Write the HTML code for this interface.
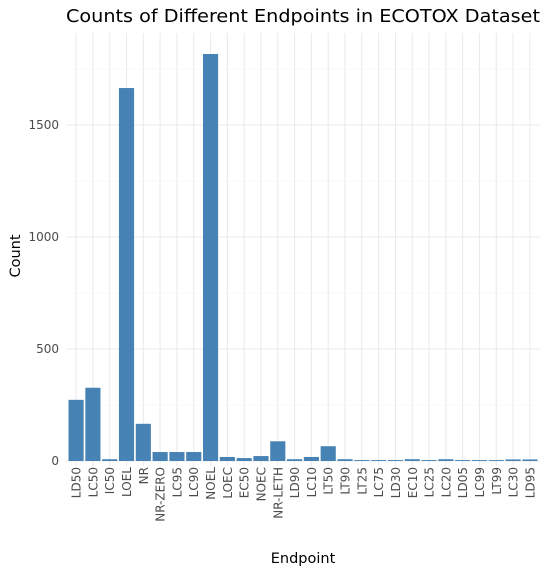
<!DOCTYPE html>
<html><head><meta charset="utf-8"><style>body{margin:0;background:#fff}svg{display:block;font-family:"DejaVu Sans","Liberation Sans",sans-serif}</style></head>
<body>
<svg id="c" width="548" height="574">
<text x="303" y="22" text-anchor="middle" font-size="18" textLength="474" lengthAdjust="spacingAndGlyphs" fill="#000">Counts of Different Endpoints in ECOTOX Dataset</text>
<g id="grid"></g><g id="bars"></g><g id="axes"></g>
<text x="303" y="563" text-anchor="middle" font-size="14.5">Endpoint</text>
<text transform="translate(20,256) rotate(-90)" text-anchor="middle" font-size="14.5">Count</text>
</svg>
<script>
const categories=["LD50","LC50","IC50","LOEL","NR","NR-ZERO","LC95","LC90","NOEL","LOEC","EC50","NOEC","NR-LETH","LD90","LC10","LT50","LT90","LT25","LC75","LD30","EC10","LC25","LC20","LD05","LC99","LT99","LC30","LD95"];
const counts=[273,327,8,1665,166,40,40,40,1817,18,13,22,88,8,18,66,8,4,4,4,8,4,8,4,4,4,7,7];
const yTicks=[0,500,1000,1500];
const ns="http://www.w3.org/2000/svg";
const L=66,R=540,T=33,B=461;
const step=(R-L)/(categories.length+0.2);
const x=i=>L+(0.6+i)*step;
const y=v=>B-v*(336/1500);
function mk(t,a,p){const e=document.createElementNS(ns,t);for(const k in a)e.setAttribute(k,a[k]);p.appendChild(e);return e;}
const g=document.getElementById('grid'),b=document.getElementById('bars'),ax=document.getElementById('axes');
for(let v=250;v<=1750;v+=500){const l=mk('line',{x1:L,x2:R,y1:y(v),y2:y(v),stroke:'#f3f3f3','stroke-width':0.6},g);}
yTicks.forEach(v=>{const l=mk('line',{x1:L,x2:R,y1:y(v),y2:y(v),stroke:'#ebebeb','stroke-width':1.1},g);
const t=mk('text',{x:L-7,y:y(v)+4,'text-anchor':'end','font-size':12,fill:'#4d4d4d'},ax);t.textContent=v;});
categories.forEach((c,i)=>{const l=mk('line',{x1:x(i),x2:x(i),y1:T,y2:B+5,stroke:'#ebebeb','stroke-width':1.1},g);
const r=mk('rect',{x:x(i)-0.45*step,width:0.9*step,y:y(counts[i]),height:B-y(counts[i]),fill:'#4682b4'},b);
const t=mk('text',{transform:`translate(${x(i)+4.5},${B+6}) rotate(-90)`,'text-anchor':'end','font-size':12,fill:'#4d4d4d'},ax);t.textContent=c;});
</script>
</body></html>
